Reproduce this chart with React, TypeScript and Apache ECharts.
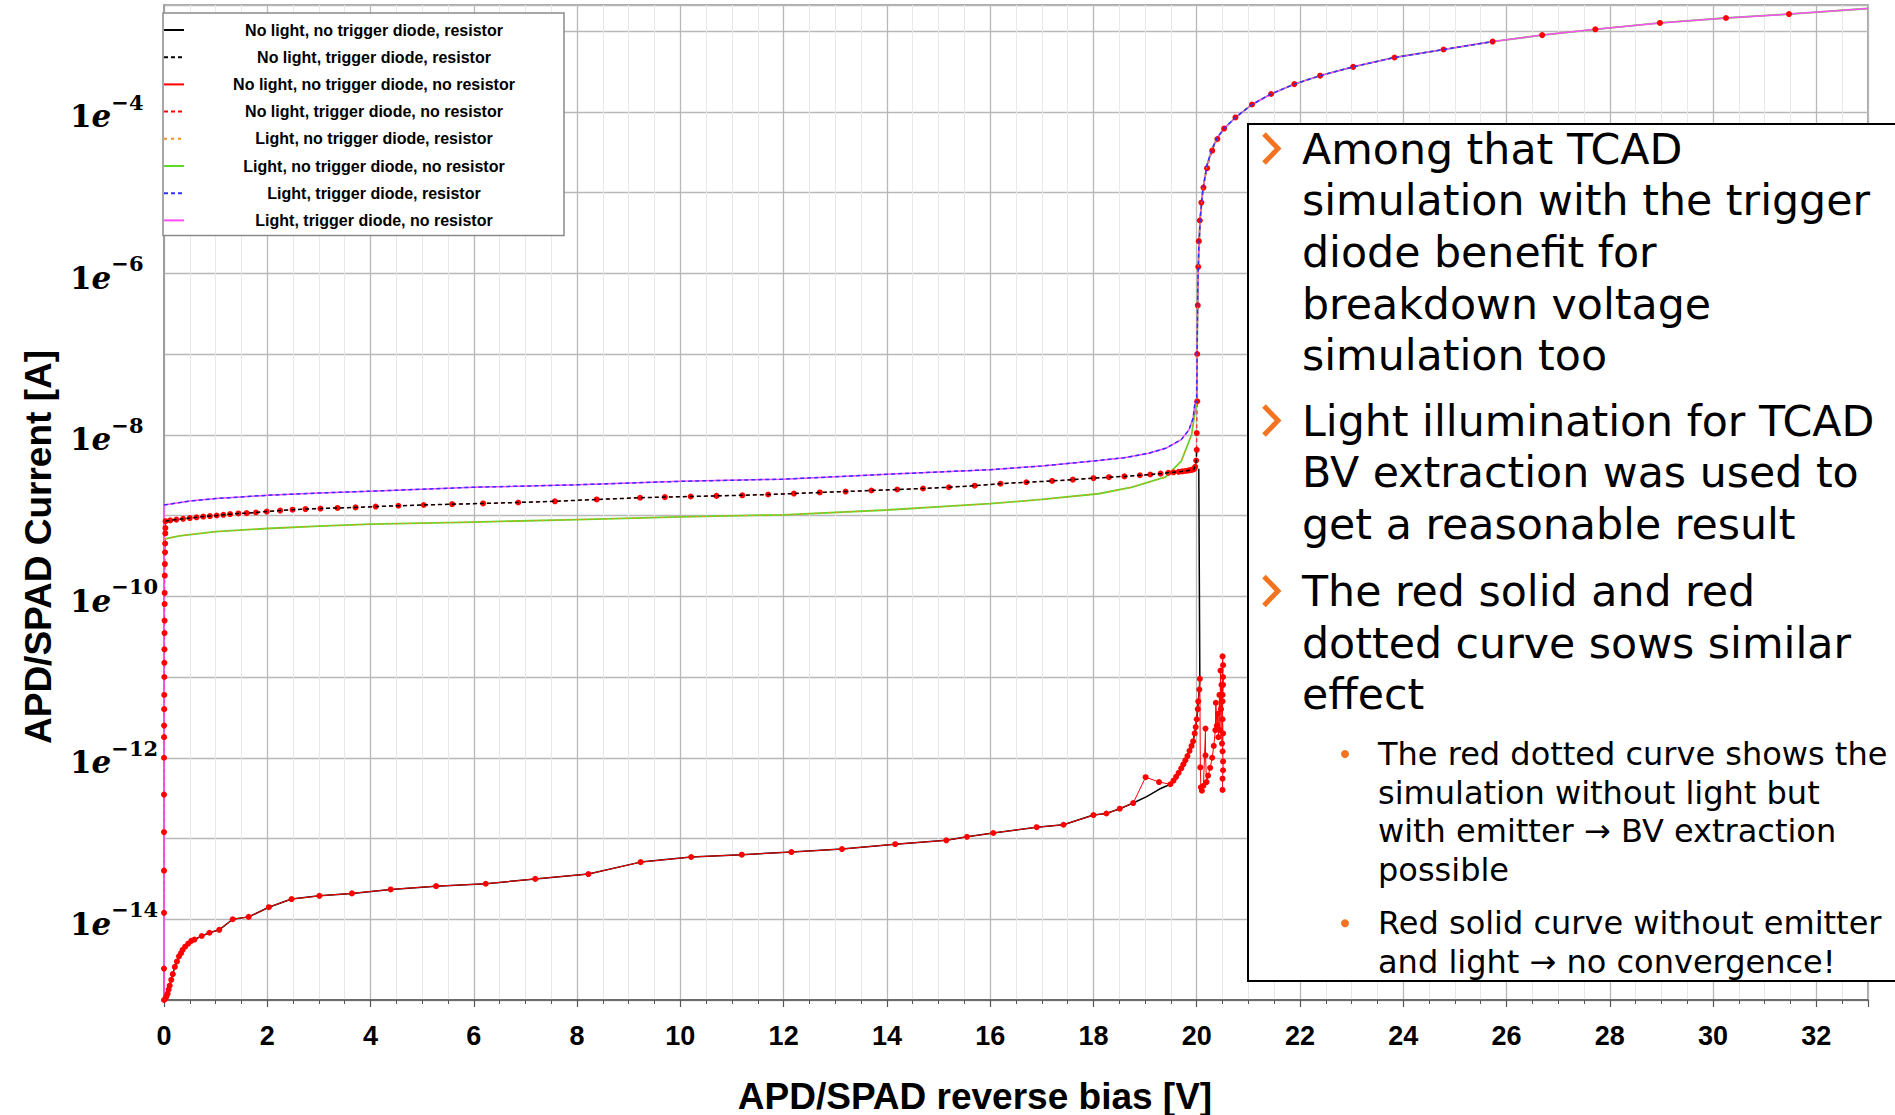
import React, { useEffect, useRef } from "react";
import * as echarts from "echarts";

type Pt = [number, number];

const seriesNames = [
  "No light, no trigger diode, resistor",
  "No light, trigger diode, resistor",
  "No light, no trigger diode, no resistor",
  "No light, trigger diode, no resistor",
  "Light, no trigger diode, resistor",
  "Light, no trigger diode, no resistor",
  "Light, trigger diode, resistor",
  "Light, trigger diode, no resistor",
];

const xTickLabels = [0, 2, 4, 6, 8, 10, 12, 14, 16, 18, 20, 22, 24, 26, 28, 30, 32];
const yLabelExponents = [-4, -6, -8, -10, -12, -14];
const yMinorMultipliers = [2, 3, 4, 5, 6, 7, 8, 9];

// bottom curve: no light, no trigger diode
const bottomStart: Pt[] = [[0, 1.0e-15], [0.03, 1.05e-15], [0.05, 1.12e-15], [0.07, 1.2e-15], [0.09, 1.35e-15], [0.11, 1.51e-15], [0.14, 1.78e-15], [0.17, 2.09e-15], [0.21, 2.57e-15], [0.25, 3.0e-15], [0.29, 3.47e-15], [0.33, 3.8e-15], [0.36, 4.17e-15], [0.41, 4.57e-15], [0.47, 5.0e-15], [0.53, 5.4e-15], [0.59, 5.6e-15], [0.73, 6.2e-15], [0.88, 6.8e-15], [1.07, 7.4e-15]];
const bottomMid: Pt[] = [[1.33, 1.0e-14], [1.64, 1.07e-14], [2.03, 1.41e-14], [2.47, 1.78e-14], [3.01, 1.95e-14], [3.64, 2.09e-14], [4.39, 2.34e-14], [5.27, 2.57e-14], [6.23, 2.75e-14], [7.19, 3.16e-14], [8.22, 3.63e-14], [9.23, 5.1e-14], [10.21, 5.9e-14], [11.19, 6.3e-14], [12.15, 6.8e-14], [13.13, 7.4e-14], [14.16, 8.5e-14], [15.15, 9.5e-14], [15.55, 1.05e-13], [16.06, 1.17e-13], [16.9, 1.38e-13], [17.42, 1.48e-13], [18.0, 1.95e-13], [18.25, 2.04e-13], [18.51, 2.34e-13], [18.77, 2.75e-13]];
const bottomSmoothKnee: Pt[] = [[19.03, 3.3e-13], [19.28, 4.1e-13]];
const bottomRedKnee: Pt[] = [[19.01, 5.75e-13], [19.27, 5.0e-13]];
const bottomRise: Pt[] = [[19.49, 4.7e-13], [19.55, 5.2e-13], [19.6, 5.8e-13], [19.65, 6.5e-13], [19.7, 7.4e-13], [19.74, 8.3e-13], [19.78, 9.3e-13], [19.82, 1.05e-12], [19.86, 1.22e-12], [19.9, 1.4e-12], [19.93, 1.6e-12], [19.96, 2.0e-12], [19.98, 2.4e-12], [20.0, 3.0e-12], [20.02, 4.0e-12], [20.03, 5.0e-12], [20.05, 7.0e-12], [20.06, 9.5e-12]];
const noConvergence: Pt[] = [[20.07, 7.6e-13], [20.08, 4.3e-13], [20.1, 3.9e-13], [20.13, 4.5e-13], [20.17, 2.3e-12], [20.17, 1.07e-12], [20.19, 5.0e-13], [20.22, 6.0e-13], [20.26, 7.5e-13], [20.3, 1.0e-12], [20.33, 1.4e-12], [20.36, 2.2e-12], [20.37, 4.8e-12], [20.39, 2.5e-12], [20.41, 3.5e-12], [20.42, 1.8e-12], [20.44, 6.0e-12], [20.45, 2.2e-12], [20.46, 1.2e-11], [20.47, 4.0e-12], [20.48, 8.0e-12], [20.49, 1.5e-12], [20.5, 1.8e-11], [20.51, 1.4e-11], [20.5, 6.0e-12], [20.51, 1.0e-11], [20.51, 8.0e-12], [20.5, 5.0e-12], [20.5, 3.0e-12], [20.51, 2.0e-12], [20.5, 1.2e-12], [20.51, 9.0e-13], [20.51, 7.0e-13], [20.5, 5.5e-13], [20.5, 4.0e-13]];
const jumpToBreakdown: Pt[] = [[20.04, 3.8e-9]];

// middle curve: no light, trigger diode
const zeroRiseNoLight: Pt[] = [[0, 1.2e-14], [0, 4e-14], [0, 1.2e-13], [0, 3.5e-13], [0, 1e-12], [0.002, 1.8e-12], [0.003, 2.5e-12], [0.004, 4e-12], [0.005, 6e-12], [0.006, 1e-11], [0.007, 1.5e-11], [0.008, 2.2e-11], [0.01, 3.5e-11], [0.011, 5e-11], [0.012, 8e-11], [0.013, 1.1e-10], [0.015, 1.8e-10], [0.017, 2.5e-10], [0.02, 3.5e-10], [0.022, 4.5e-10], [0.025, 6e-10], [0.027, 7e-10]];
const midNoLight: Pt[] = [[0.03, 8.5e-10], [0.12, 8.7e-10], [0.24, 8.9e-10], [0.37, 9.1e-10], [0.5, 9.3e-10], [0.63, 9.5e-10], [0.76, 9.7e-10], [0.89, 9.85e-10], [1.02, 1.0e-9], [1.15, 1.02e-9], [1.28, 1.04e-9], [1.44, 1.06e-9], [1.6, 1.07e-9], [1.78, 1.09e-9], [1.99, 1.12e-9], [2.25, 1.15e-9], [2.49, 1.18e-9], [2.74, 1.2e-9], [3.03, 1.22e-9], [3.36, 1.24e-9], [3.71, 1.26e-9], [4.1, 1.29e-9], [4.54, 1.32e-9], [5.03, 1.35e-9], [5.58, 1.38e-9], [6.18, 1.41e-9], [6.86, 1.45e-9], [7.57, 1.5e-9], [8.38, 1.58e-9], [9.22, 1.66e-9], [9.7, 1.69e-9], [10.2, 1.72e-9], [10.7, 1.75e-9], [11.2, 1.78e-9], [11.7, 1.82e-9], [12.2, 1.87e-9], [12.7, 1.93e-9], [13.2, 1.98e-9], [13.7, 2.04e-9], [14.2, 2.1e-9], [14.7, 2.16e-9], [15.2, 2.24e-9], [15.7, 2.34e-9], [16.2, 2.48e-9], [16.7, 2.58e-9], [17.2, 2.68e-9], [17.6, 2.78e-9], [18.0, 2.9e-9], [18.3, 2.98e-9], [18.6, 3.05e-9], [18.9, 3.15e-9], [19.1, 3.22e-9], [19.3, 3.3e-9], [19.45, 3.38e-9], [19.55, 3.43e-9], [19.65, 3.48e-9], [19.72, 3.52e-9], [19.78, 3.56e-9], [19.83, 3.6e-9], [19.87, 3.64e-9], [19.9, 3.68e-9], [19.93, 3.72e-9], [19.95, 3.78e-9]];
const midNoLightTop: Pt[] = [[19.99, 4.8e-9], [20.0, 6.5e-9]];

// light, no trigger diode
const midLight: Pt[] = [[0, 5.1e-10], [0.3, 5.6e-10], [1, 6.3e-10], [2, 6.9e-10], [3, 7.4e-10], [4, 7.8e-10], [6, 8.3e-10], [8, 8.9e-10], [10, 9.6e-10], [12, 1.02e-9], [14, 1.17e-9], [16, 1.4e-9], [17, 1.58e-9], [18.1, 1.86e-9], [18.75, 2.24e-9], [19.4, 3.0e-9], [19.7, 4.7e-9], [19.9, 1.0e-8], [19.96, 1.8e-8]];

// light, trigger diode
const topLight: Pt[] = [[0, 1.35e-9], [0.5, 1.51e-9], [1, 1.62e-9], [2, 1.78e-9], [3, 1.9e-9], [4, 2.0e-9], [6, 2.24e-9], [8, 2.4e-9], [10, 2.65e-9], [12, 2.82e-9], [14, 3.24e-9], [16, 3.7e-9], [17, 4.1e-9], [18.1, 4.8e-9], [18.6, 5.2e-9], [19.07, 5.9e-9], [19.4, 6.8e-9], [19.7, 8.7e-9], [19.85, 1.15e-8], [19.93, 1.6e-8], [19.97, 2.6e-8]];
const topLightZero: Pt[] = [[0, 1.0e-15]];

// breakdown and above
const breakdownRise: Pt[] = [[20.0, 2.5e-8], [20.01, 1.6e-7], [20.02, 6.3e-7], [20.04, 2.0e-6], [20.07, 5.0e-6], [20.12, 1.1e-5], [20.2, 2.2e-5], [20.3, 3.5e-5], [20.4, 4.8e-5]];
const breakdownMarkers: Pt[] = [[19.97, 4.0e-9], [19.99, 4.8e-9], [20.0, 6.5e-9], [20.0, 1.05e-8], [20.01, 2.6e-8], [20.01, 1e-7], [20.02, 4e-7], [20.03, 1.2e-6], [20.04, 2.5e-6], [20.06, 4.5e-6], [20.09, 7.5e-6], [20.13, 1.15e-5], [20.2, 2.0e-5], [20.3, 3.3e-5], [20.4, 4.6e-5]];
const upperBranch: Pt[] = [[20.53, 6.2e-5], [20.75, 8.5e-5], [21.07, 1.23e-4], [21.44, 1.66e-4], [21.89, 2.2e-4], [22.39, 2.8e-4], [23.03, 3.6e-4], [23.83, 4.7e-4], [24.78, 5.9e-4], [25.73, 7.4e-4]];
const upperTail: Pt[] = [[26.69, 8.9e-4], [27.72, 1.05e-3], [28.97, 1.26e-3], [30.25, 1.45e-3], [31.47, 1.62e-3]];
const upperEnd: Pt[] = [[33.0, 1.9e-3]];

const Y_MIN = 1e-15;
const Y_MAX = 2.1e-3;

const SANS = "'Liberation Sans', Arial, sans-serif";
const SERIF = "'DejaVu Serif', 'Liberation Serif', serif";
const BODY = "'DejaVu Sans', Verdana, sans-serif";
const ORANGE = "#F37321";

function mk(name: string, data: Pt[], color: string, opts: any = {}) {
  return {
    type: "line",
    name,
    data,
    z: opts.z ?? 2,
    symbol: opts.marker ? "circle" : "none",
    symbolSize: opts.marker ? 6 : 0,
    showSymbol: !!opts.marker,
    itemStyle: { color },
    lineStyle: { color, width: opts.width ?? 1.5, type: opts.dash ? opts.dashPattern ?? [4, 3] : "solid" },
    emphasis: { disabled: true },
    silent: true,
    animation: false,
  };
}

export default function App() {
  const ref = useRef<HTMLDivElement>(null);
  useEffect(() => {
    const chart = echarts.init(ref.current!, null, { renderer: "svg" });

    const minorY: number[] = [];
    for (let e = -15; e <= -3; e++) {
      for (const m of yMinorMultipliers) {
        const v = m * Math.pow(10, e);
        if (v < Y_MAX) minorY.push(v);
      }
    }

    const option: any = {
      animation: false,
      backgroundColor: "#fff",
      grid: {
        left: 164, right: 27, top: 5, bottom: 115,
        show: true, borderColor: "#8c8c8c", borderWidth: 1.5,
        containLabel: false, outerBoundsMode: "none",
      },
      xAxis: {
        type: "value", min: 0, max: 33, interval: 2,
        axisLine: { show: true, lineStyle: { color: "#555", width: 1.5 } },
        axisTick: { show: true, length: 7, lineStyle: { color: "#555", width: 1.2 } },
        minorTick: { show: true, splitNumber: 4, length: 4, lineStyle: { color: "#555" } },
        splitLine: { show: true, lineStyle: { color: "#b8b8b8", width: 1.3 } },
        minorSplitLine: { show: true, lineStyle: { color: "#e8e8e8", width: 1 } },
        axisLabel: {
          margin: 22, color: "#000", fontSize: 27, fontWeight: "bold", fontFamily: SANS,
          formatter: (v: number) => (xTickLabels.includes(v) ? String(v) : ""),
        },
      },
      yAxis: {
        type: "log", logBase: 10, min: Y_MIN, max: Y_MAX, interval: 1,
        axisLine: { show: true, lineStyle: { color: "#999", width: 1.5 } },
        axisTick: { show: false },
        splitLine: { show: true, lineStyle: { color: "#b8b8b8", width: 1.3 } },
        axisLabel: {
          align: "left", margin: 94, color: "#000",
          formatter: (v: number) => {
            const e = Math.log10(v);
            const r = Math.round(e);
            if (Math.abs(e - r) > 0.01 || !yLabelExponents.includes(r)) return "";
            return `{b|1}{i|e}{s|\u2212${-r}}`;
          },
          rich: {
            b: { fontFamily: SERIF, fontWeight: "bold", fontSize: 31, lineHeight: 40, verticalAlign: "bottom", color: "#000" },
            i: { fontFamily: SERIF, fontWeight: "bold", fontStyle: "italic", fontSize: 31, lineHeight: 40, verticalAlign: "bottom", color: "#000" },
            s: { fontFamily: SERIF, fontWeight: "bold", fontSize: 21, lineHeight: 30, verticalAlign: "top", color: "#000" },
          },
        },
      },
      legend: {
        show: true, orient: "vertical", left: 163, top: 13,
        padding: [9, 5, 7, 0], itemGap: 11.2, itemWidth: 20, itemHeight: 14,
        backgroundColor: "#fff", borderColor: "#8a8a8a", borderWidth: 1.5,
        selectedMode: false, z: 10,
        itemStyle: { opacity: 0 },
        data: seriesNames,
        formatter: (n: string) => `{a|${n}}`,
        textStyle: {
          rich: {
            a: { width: 370, align: "center", fontSize: 16, fontWeight: "bold", fontFamily: SANS, color: "#000", lineHeight: 16 },
          },
        },
      },
      series: [
        {
          type: "line", data: [], z: 1, silent: true, animation: false,
          markLine: {
            silent: true, symbol: ["none", "none"], animation: false,
            label: { show: false },
            lineStyle: { color: "#e6e6e6", width: 1, type: "solid" },
            data: minorY.map((v) => ({ yAxis: v })),
          },
        },
        mk(seriesNames[0], [...bottomStart, ...bottomMid, ...bottomSmoothKnee, ...bottomRise, ...jumpToBreakdown], "#000000", { z: 2 }),
        mk(seriesNames[1], [...midNoLight, ...midNoLightTop], "#000000", { z: 5, dash: true }),
        mk(seriesNames[2], [[0, 2.45e-15], ...bottomStart, ...bottomMid, ...bottomRedKnee, ...bottomRise, ...noConvergence], "#ff0000", { z: 3, marker: true, width: 1 }),
        mk(seriesNames[3], [...zeroRiseNoLight, ...midNoLight, ...breakdownMarkers, ...upperBranch, ...upperTail], "#ff0000", { z: 3, marker: true, width: 1, dash: true }),
        mk(seriesNames[4], [...midLight, ...breakdownRise], "#ff8c1a", { z: 4, dash: true, width: 1, dashPattern: [3, 4] }),
        mk(seriesNames[5], [...midLight, ...breakdownRise, ...upperBranch, ...upperTail, ...upperEnd], "#5ed82a", { z: 3, width: 1.8 }),
        mk(seriesNames[6], [...topLight, ...breakdownRise, ...upperBranch], "#3030ff", { z: 4, dash: true }),
        mk(seriesNames[7], [...topLightZero, ...topLight, ...breakdownRise, ...upperBranch, ...upperTail, ...upperEnd], "#ff4dff", { z: 3 }),
      ],
      graphic: [
        { type: "text", x: 975, y: 1096, z: 100, style: { text: "APD/SPAD reverse bias [V]", fontSize: 37, fontWeight: "bold", fontFamily: SANS, fill: "#000", align: "center", verticalAlign: "middle" } },
        { type: "text", x: 38, y: 547, rotation: Math.PI / 2, z: 100, style: { text: "APD/SPAD Current [A]", fontSize: 37, fontWeight: "bold", fontFamily: SANS, fill: "#000", align: "center", verticalAlign: "middle" } },
        { type: "rect", z: 100, shape: { x: 1248, y: 124, width: 700, height: 857 }, style: { fill: "#fff", stroke: "#000", lineWidth: 2 } },
        { type: "polyline", z: 101, shape: { points: [[1264, 134], [1278, 148.6], [1264, 163]] }, style: { stroke: ORANGE, lineWidth: 5, fill: "none" } },
        { type: "polyline", z: 101, shape: { points: [[1264, 406], [1278, 420.6], [1264, 435]] }, style: { stroke: ORANGE, lineWidth: 5, fill: "none" } },
        { type: "polyline", z: 101, shape: { points: [[1264, 576.4], [1278, 591], [1264, 605.4]] }, style: { stroke: ORANGE, lineWidth: 5, fill: "none" } },
        { type: "circle", z: 101, shape: { cx: 1345, cy: 754, r: 4 }, style: { fill: ORANGE } },
        { type: "circle", z: 101, shape: { cx: 1345, cy: 923.3, r: 4 }, style: { fill: ORANGE } },
        { type: "text", x: 1302, y: 122.75, z: 101, style: { text: "Among that TCAD\nsimulation with the trigger\ndiode benefit for\nbreakdown voltage\nsimulation too", fontSize: 42.7, fontFamily: BODY, lineHeight: 51.7, fill: "#000", align: "left", verticalAlign: "top" } },
        { type: "text", x: 1302, y: 394.75, z: 101, style: { text: "Light illumination for TCAD\nBV extraction was used to\nget a reasonable result", fontSize: 42.7, fontFamily: BODY, lineHeight: 51.7, fill: "#000", align: "left", verticalAlign: "top" } },
        { type: "text", x: 1302, y: 565.15, z: 101, style: { text: "The red solid and red\ndotted curve sows similar\neffect", fontSize: 42.7, fontFamily: BODY, lineHeight: 51.7, fill: "#000", align: "left", verticalAlign: "top" } },
        { type: "text", x: 1378, y: 734.75, z: 101, style: { text: "The red dotted curve shows the\nsimulation without light but\nwith emitter \u2192 BV extraction\npossible", fontSize: 32, fontFamily: BODY, lineHeight: 38.5, fill: "#000", align: "left", verticalAlign: "top" } },
        { type: "text", x: 1378, y: 904, z: 101, style: { text: "Red solid curve without emitter\nand light \u2192 no convergence!", fontSize: 32, fontFamily: BODY, lineHeight: 38.5, fill: "#000", align: "left", verticalAlign: "top" } },
      ],
    };

    chart.setOption(option);
    return () => chart.dispose();
  }, []);

  return (
    <div
      ref={ref}
      style={{ position: "fixed", left: 0, top: 0, width: 1895, height: 1115, background: "#fff" }}
    />
  );
}
